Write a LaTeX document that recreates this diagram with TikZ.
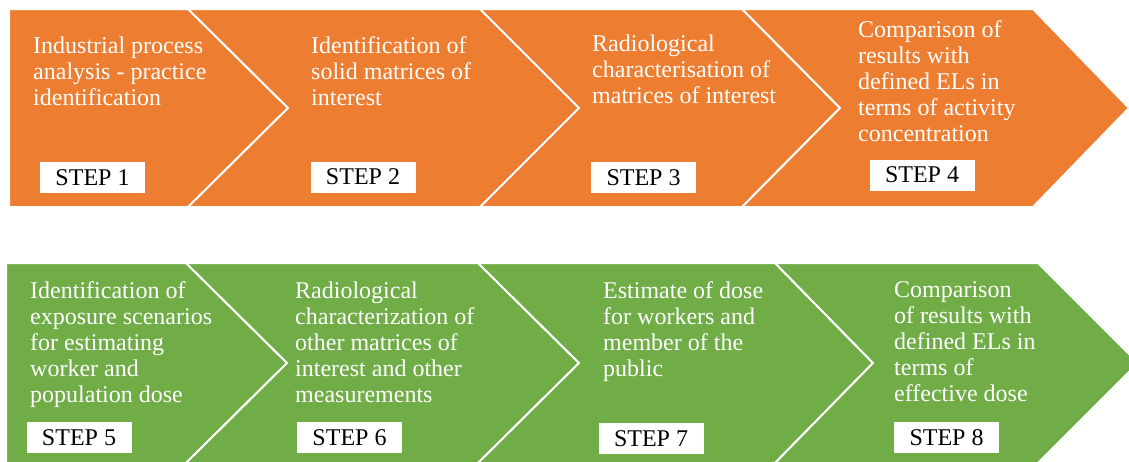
\documentclass[tikz,border=0pt]{standalone}
\usepackage{fontspec}
\setmainfont{Liberation Serif}
\definecolor{orng}{HTML}{ED7D31}
\definecolor{grn}{HTML}{70AD47}
\begin{document}
\begin{tikzpicture}[x=1pt,y=-1pt,
  chev/.style={draw=white,line width=2pt,line join=miter},
  desc/.style={anchor=north west,inner sep=0pt,align=left,text=white,font=\fontsize{24}{26}\selectfont},
  stepbox/.style={fill=white,minimum width=105pt,minimum height=31pt,inner sep=0pt,font=\fontsize{24}{26}\selectfont,text=black}]
\useasboundingbox (0,0) rectangle (1129,461);
\begin{scope}
\clip (0,0) rectangle (1129,461);
% top row
\filldraw[chev,fill=orng] (9,9) -- (188,9) -- (288,108) -- (188,207) -- (9,207) -- cycle;
\filldraw[chev,fill=orng] (188,9) -- (480,9) -- (579,108) -- (480,207) -- (188,207) -- (288,108) -- cycle;
\filldraw[chev,fill=orng] (480,9) -- (742,9) -- (840,108) -- (742,207) -- (480,207) -- (579,108) -- cycle;
\filldraw[chev,fill=orng] (742,9) -- (1033,9) -- (1129,108) -- (1033,207) -- (742,207) -- (840,108) -- cycle;
% bottom row
\filldraw[chev,fill=grn] (6,263) -- (186,263) -- (287,363) -- (186,463) -- (6,463) -- cycle;
\filldraw[chev,fill=grn] (186,263) -- (478,263) -- (579,363) -- (478,463) -- (186,463) -- (287,363) -- cycle;
\filldraw[chev,fill=grn] (478,263) -- (775,263) -- (873,363) -- (775,463) -- (478,463) -- (579,363) -- cycle;
\filldraw[chev,fill=grn] (775,263) -- (1038,263) -- (1138,363) -- (1038,463) -- (775,463) -- (873,363) -- cycle;
\end{scope}
% texts
\node[desc] (t1) at (33,36.5) {Industrial process\\analysis - practice\\identification};
\node[desc] (t2) at (311,36.5) {Identification of\\solid matrices of\\interest};
\node[desc] (t3) at (592,34.5) {Radiological\\characterisation of\\matrices of interest};
\node[desc] (t4) at (858,20.5) {Comparison of\\results with\\defined ELs in\\terms of activity\\concentration};
\node[desc] (t5) at (30,281.5) {Identification of\\exposure scenarios\\for estimating\\worker and\\population dose};
\node[desc] (t6) at (295,281.5) {Radiological\\characterization of\\other matrices of\\interest and other\\measurements};
\node[desc] (t7) at (603,281.5) {Estimate of dose\\for workers and\\member of the\\public};
\node[desc] (t8) at (894,281.5) {Comparison\\of results with\\defined ELs in\\terms of\\effective dose};
% step boxes
\node[stepbox] (s1) at (92.5,177.5) {STEP 1};
\node[stepbox] (s2) at (363,177) {STEP 2};
\node[stepbox] (s3) at (643.5,177.5) {STEP 3};
\node[stepbox] (s4) at (922,175) {STEP 4};
\node[stepbox] (s5) at (79,437.5) {STEP 5};
\node[stepbox] (s6) at (349.5,437.5) {STEP 6};
\node[stepbox] (s7) at (651,438.5) {STEP 7};
\node[stepbox] (s8) at (946.5,437.5) {STEP 8};
\end{tikzpicture}
\end{document}
